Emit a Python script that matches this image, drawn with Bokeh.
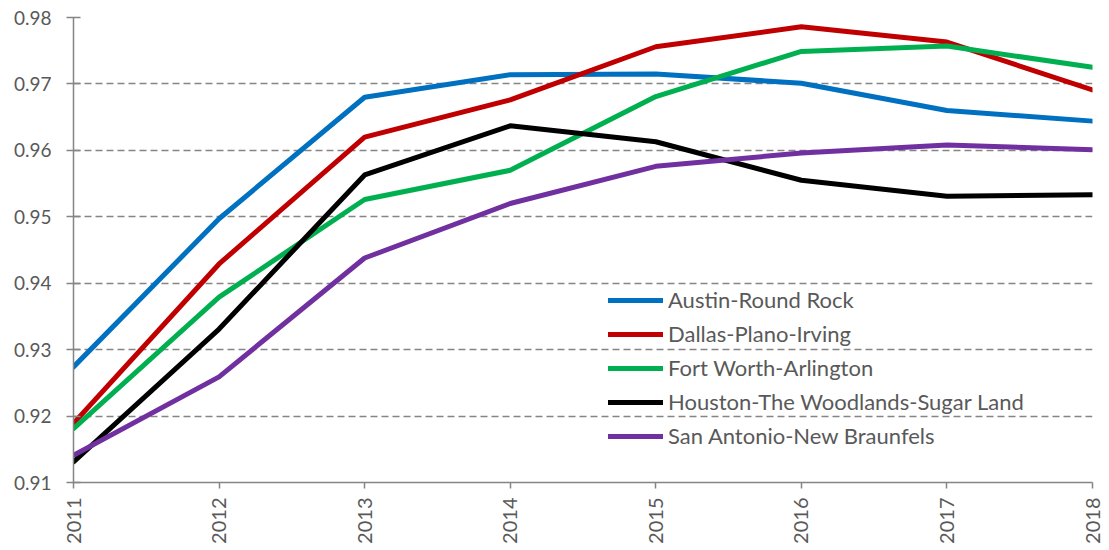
import math
from bokeh.plotting import figure
from bokeh.models import Range1d, FixedTicker, Legend, LegendItem, PrintfTickFormatter
from bokeh.embed import file_html
from bokeh.resources import INLINE

years = [2011, 2012, 2013, 2014, 2015, 2016, 2017, 2018]
austin = [0.9274, 0.9497, 0.9680, 0.9714, 0.9715, 0.9701, 0.9660, 0.9644]
dallas = [0.9189, 0.9429, 0.9620, 0.9676, 0.9756, 0.9786, 0.9763, 0.9691]
fort_worth = [0.9181, 0.9379, 0.9526, 0.9570, 0.9681, 0.9749, 0.9757, 0.9725]
houston = [0.9131, 0.9331, 0.9563, 0.9637, 0.9613, 0.9555, 0.9531, 0.9533]
san_antonio = [0.9141, 0.9259, 0.9438, 0.9520, 0.9576, 0.9596, 0.9608, 0.9601]

series_names = ["Austin-Round Rock", "Dallas-Plano-Irving", "Fort Worth-Arlington",
                "Houston-The Woodlands-Sugar Land", "San Antonio-New Braunfels"]
series_values = [austin, dallas, fort_worth, houston, san_antonio]
colors = ["#0070C0", "#C00000", "#00B050", "#000000", "#7030A0"]
y_ticks = [0.91, 0.92, 0.93, 0.94, 0.95, 0.96, 0.97, 0.98]

FONT = "Lato"
TXT = "#595959"
AX = "#858585"

p = figure(frame_width=1019, frame_height=465, output_backend="svg", toolbar_location=None,
           x_range=Range1d(2011, 2018), y_range=Range1d(0.91, 0.98),
           min_border_left=73, min_border_top=17, min_border_right=17, min_border_bottom=10)

p.outline_line_color = None
p.background_fill_color = "white"
p.xgrid.visible = False
p.ygrid.grid_line_color = AX
p.ygrid.grid_line_width = 1.6
p.ygrid.grid_line_dash = "7 4"
p.ygrid.ticker = FixedTicker(ticks=y_ticks)

p.yaxis.ticker = FixedTicker(ticks=y_ticks)
p.yaxis.formatter = PrintfTickFormatter(format="%.2f")
p.xaxis.ticker = FixedTicker(ticks=years)
p.xaxis.major_label_orientation = math.pi / 2

for ax in (p.xaxis, p.yaxis):
    ax.axis_line_color = AX
    ax.axis_line_width = 1.5
    ax.major_tick_line_color = AX
    ax.major_tick_line_width = 1.5
    ax.minor_tick_line_color = None
    ax.major_label_text_font = FONT
    ax.major_label_text_color = TXT
p.yaxis.major_tick_out = 7
p.yaxis.major_tick_in = 7
p.xaxis.major_tick_out = 6
p.xaxis.major_tick_in = 0
p.yaxis.major_label_text_font_size = "19px"
p.xaxis.major_label_text_font_size = "20px"
p.yaxis.major_label_standoff = 15
p.xaxis.major_label_standoff = 9

items = []
for name, vals, c in zip(series_names, series_values, colors):
    r = p.line(years, vals, line_color=c, line_width=5, line_join="round", line_cap="round")
    items.append(LegendItem(label=name, renderers=[r]))

legend = Legend(items=items, location=(535, 33), label_text_font=FONT,
                label_text_font_size="22px", label_text_color=TXT,
                glyph_width=55, glyph_height=20, label_height=20, spacing=7,
                padding=0, margin=0, label_standoff=5,
                background_fill_alpha=0, border_line_color=None)
p.add_layout(legend)

open("out.html", "w").write(file_html(p, INLINE))
